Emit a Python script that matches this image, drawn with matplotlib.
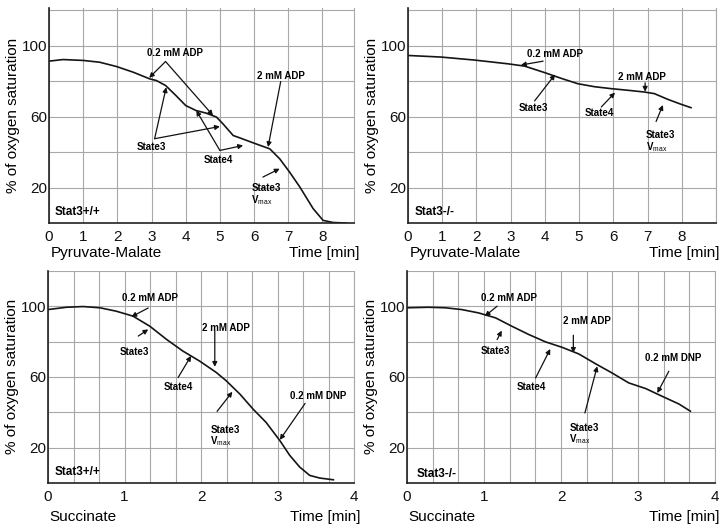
import matplotlib
matplotlib.use("Agg")
import matplotlib.pyplot as plt
import numpy as np

plt.rcParams['font.family'] = ['Liberation Sans', 'DejaVu Sans']
plt.rcParams['mathtext.fontset'] = 'custom'
plt.rcParams['mathtext.rm'] = 'Liberation Sans'
plt.rcParams['mathtext.bf'] = 'Liberation Sans:bold'

# --- data (time in min, % O2 saturation) ---
pm_wt_t = [0, 0.41, 1.0, 1.48, 1.97, 2.46, 2.95, 3.14, 3.41, 3.71, 4.0, 4.3, 4.6, 4.9,
           5.09, 5.39, 5.58, 5.97, 6.46, 6.75, 7.04, 7.34, 7.73, 8.02, 8.31, 8.7]
pm_wt_o2 = [91.2, 92.1, 91.6, 90.6, 88.2, 85.0, 81.2, 80.3, 77.5, 71.9, 66.2, 63.4, 61.9, 59.7,
            55.9, 49.3, 48.0, 45.2, 41.8, 36.2, 28.7, 20.3, 8.1, 1.5, 0.3, 0.0]

pm_ko_t = [0, 0.97, 1.95, 2.92, 3.41, 4.0, 4.48, 4.96, 5.45, 5.94, 6.42, 6.91, 7.2, 7.59, 7.98, 8.27]
pm_ko_o2 = [94.4, 93.5, 91.8, 89.7, 88.4, 84.7, 81.5, 78.5, 76.8, 75.7, 74.8, 73.8, 72.9, 69.7, 66.9, 65.0]

su_wt_t = [0, 0.24, 0.46, 0.68, 0.89, 1.11, 1.33, 1.55, 1.76, 1.98, 2.2, 2.33, 2.51, 2.68,
           2.85, 3.03, 3.16, 3.29, 3.42, 3.55, 3.73]
su_wt_o2 = [98.1, 99.4, 99.8, 99.1, 97.2, 94.4, 88.7, 81.2, 74.7, 69.0, 62.5, 57.8, 50.2, 41.8,
            34.3, 24.0, 15.6, 9.0, 4.3, 2.8, 1.8]

su_ko_t = [0, 0.28, 0.5, 0.71, 0.93, 1.15, 1.36, 1.58, 1.8, 2.01, 2.23, 2.45, 2.66, 2.88,
           3.1, 3.31, 3.53, 3.68]
su_ko_o2 = [99.1, 99.4, 99.1, 98.1, 96.2, 93.4, 88.7, 84.0, 79.8, 76.8, 73.0, 67.4, 62.3, 56.6,
            53.4, 49.1, 44.7, 40.6]

pm_xticks = [0, 1, 2, 3, 4, 5, 6, 7, 8]
su_xticks = [0, 1, 2, 3, 4]
yticks = [20, 60, 100]

VMAX = 'State3\n' + r'$\mathbf{V}_{\mathrm{max}}$'

# label, text pos, arrow start, arrow tips
ann_pm_wt = [
    ('0.2 mM ADP', (3.68, 95.7), (3.41, 91.0), [(2.93, 81.8), (4.8, 60.6)]),
    ('2 mM ADP', (6.8, 83.1), (6.78, 79.7), [(6.41, 42.8)]),
    ('State3', (3.0, 42.8), (3.09, 47.5), [(3.43, 76.5), (5.0, 54.4)]),
    ('State4', (4.95, 35.3), (5.0, 40.9), [(4.31, 63.4), (5.68, 43.7)]),
]
ann_pm_ko = [
    ('0.2 mM ADP', (4.3, 95.0), (3.95, 91.2), [(3.3, 89.0)]),
    ('State3', (3.65, 64.7), (3.7, 68.8), [(4.3, 83.7)]),
    ('2 mM ADP', (6.83, 82.2), (6.93, 79.0), [(6.93, 74.0)]),
    ('State4', (5.6, 61.9), (5.65, 65.4), [(6.05, 73.5)]),
]
ann_su_wt = [
    ('0.2 mM ADP', (1.33, 104.7), (1.31, 99.0), [(1.09, 94.0)]),
    ('State3', (1.13, 74.3), (1.18, 83.1), [(1.31, 86.9)]),
    ('2 mM ADP', (2.33, 87.8), (2.18, 85.9), [(2.18, 65.7)]),
    ('State4', (1.7, 54.4), (1.7, 59.6), [(1.87, 71.9)]),
    ('0.2 mM DNP', (3.53, 49.3), (3.36, 45.0), [(3.03, 24.4)]),
]
ann_su_ko = [
    ('0.2 mM ADP', (1.32, 104.7), (1.17, 100.0), [(1.01, 94.3)]),
    ('State3', (1.15, 74.9), (1.17, 81.1), [(1.23, 86.2)]),
    ('2 mM ADP', (2.34, 91.5), (2.16, 83.6), [(2.16, 73.6)]),
    ('State4', (1.61, 54.2), (1.67, 59.4), [(1.86, 75.8)]),
    ('0.2 mM DNP', (3.46, 70.8), (3.4, 63.2), [(3.25, 50.9)]),
]
# Vmax label: left x, centre y, arrow start, arrow tip
vmax_pm_wt = ((5.92, 15.8), (6.26, 25.9), (6.75, 30.6))
vmax_pm_ko = ((6.96, 45.6), (7.25, 57.2), (7.45, 66.5))
vmax_su_wt = ((2.12, 26.3), (2.21, 40.5), (2.41, 51.6))
vmax_su_ko = ((2.11, 27.4), (2.31, 39.6), (2.47, 66.0))

fig = plt.figure(figsize=(7.24, 5.29), dpi=100)

panels = [
    # rect, t, o2, xticks, xmax, vgrid step, substrate, genotype, geno pos, ann, vmax, time x, ymax
    ([0.0677, 0.5784, 0.421, 0.406], pm_wt_t, pm_wt_o2, pm_xticks, 8.92, 1, 'Pyruvate-Malate',
     'Stat3+/+', (0.17, 6.2), ann_pm_wt, vmax_pm_wt, 1.02, 121),
    ([0.5635, 0.5784, 0.4254, 0.406], pm_ko_t, pm_ko_o2, pm_xticks, 9.0, 1, 'Pyruvate-Malate',
     'Stat3-/-', (0.2, 6.2), ann_pm_ko, vmax_pm_ko, 1.013, 121),
    ([0.0663, 0.087, 0.4227, 0.401], su_wt_t, su_wt_o2, su_xticks, 4.0, 1 / 3, 'Succinate',
     'Stat3+/+', (0.09, 6.2), ann_su_wt, vmax_su_wt, 1.02, 120),
    ([0.5622, 0.087, 0.4254, 0.401], su_ko_t, su_ko_o2, su_xticks, 4.0, 1 / 3, 'Succinate',
     'Stat3-/-', (0.13, 5.0), ann_su_ko, vmax_su_ko, 1.013, 120),
]

grid_col = '#a8a8a8'
for rect, t, o2, xt, xmax, step, subst, geno, gpos, anns, vmax, tx, ymax in panels:
    ax = fig.add_axes(rect)
    ax.plot(t, o2, color='#151515', lw=1.2)
    ax.set_xlim(0, xmax)
    ax.set_ylim(0, ymax)

    ax.set_xticks(xt)
    ax.set_xticks(np.arange(0, xmax + 0.01, step), minor=True)
    ax.set_yticks(yticks)
    ax.set_yticks([0, 40, 80, 120], minor=True)
    ax.grid(True, which='both', color=grid_col, lw=0.8)
    ax.tick_params(which='both', length=0)
    ax.tick_params(axis='x', pad=5, labelsize=11, colors='#111111')
    ax.tick_params(axis='y', pad=1.5, labelsize=11, colors='#111111')

    ax.spines['top'].set_visible(False)
    ax.spines['right'].set_color(grid_col)
    for s in ('left', 'bottom'):
        ax.spines[s].set_color('#222222')
        ax.spines[s].set_linewidth(1.2)

    ax.text(-0.118, 0.5, '% of oxygen saturation', transform=ax.transAxes, rotation=90,
            ha='center', va='center', fontsize=11)
    ylab = -0.14 if ymax == 121 else -0.159
    ax.text(0.005, ylab, subst, transform=ax.transAxes, ha='left', va='center', fontsize=11)
    ax.text(tx, ylab, 'Time [min]', transform=ax.transAxes, ha='right', va='center', fontsize=11)
    ax.text(gpos[0], gpos[1], geno, ha='left', va='center', fontsize=8.5, fontweight='bold')

    arrow = dict(arrowstyle='-|>', color='#111111', lw=0.9, mutation_scale=7,
                 shrinkA=0, shrinkB=0)
    for label, tpos, start, tips in anns:
        ax.text(tpos[0], tpos[1], label, ha='center', va='center', fontsize=7, fontweight='bold')
        for tip in tips:
            ax.annotate('', xy=tip, xytext=start, arrowprops=arrow)
    vpos, vstart, vtip = vmax
    ax.text(vpos[0], vpos[1], VMAX, ha='left', va='center', fontsize=7, fontweight='bold',
            linespacing=0.95)
    ax.annotate('', xy=vtip, xytext=vstart, arrowprops=arrow)

plt.savefig('out.png', dpi=100)
plt.close()
